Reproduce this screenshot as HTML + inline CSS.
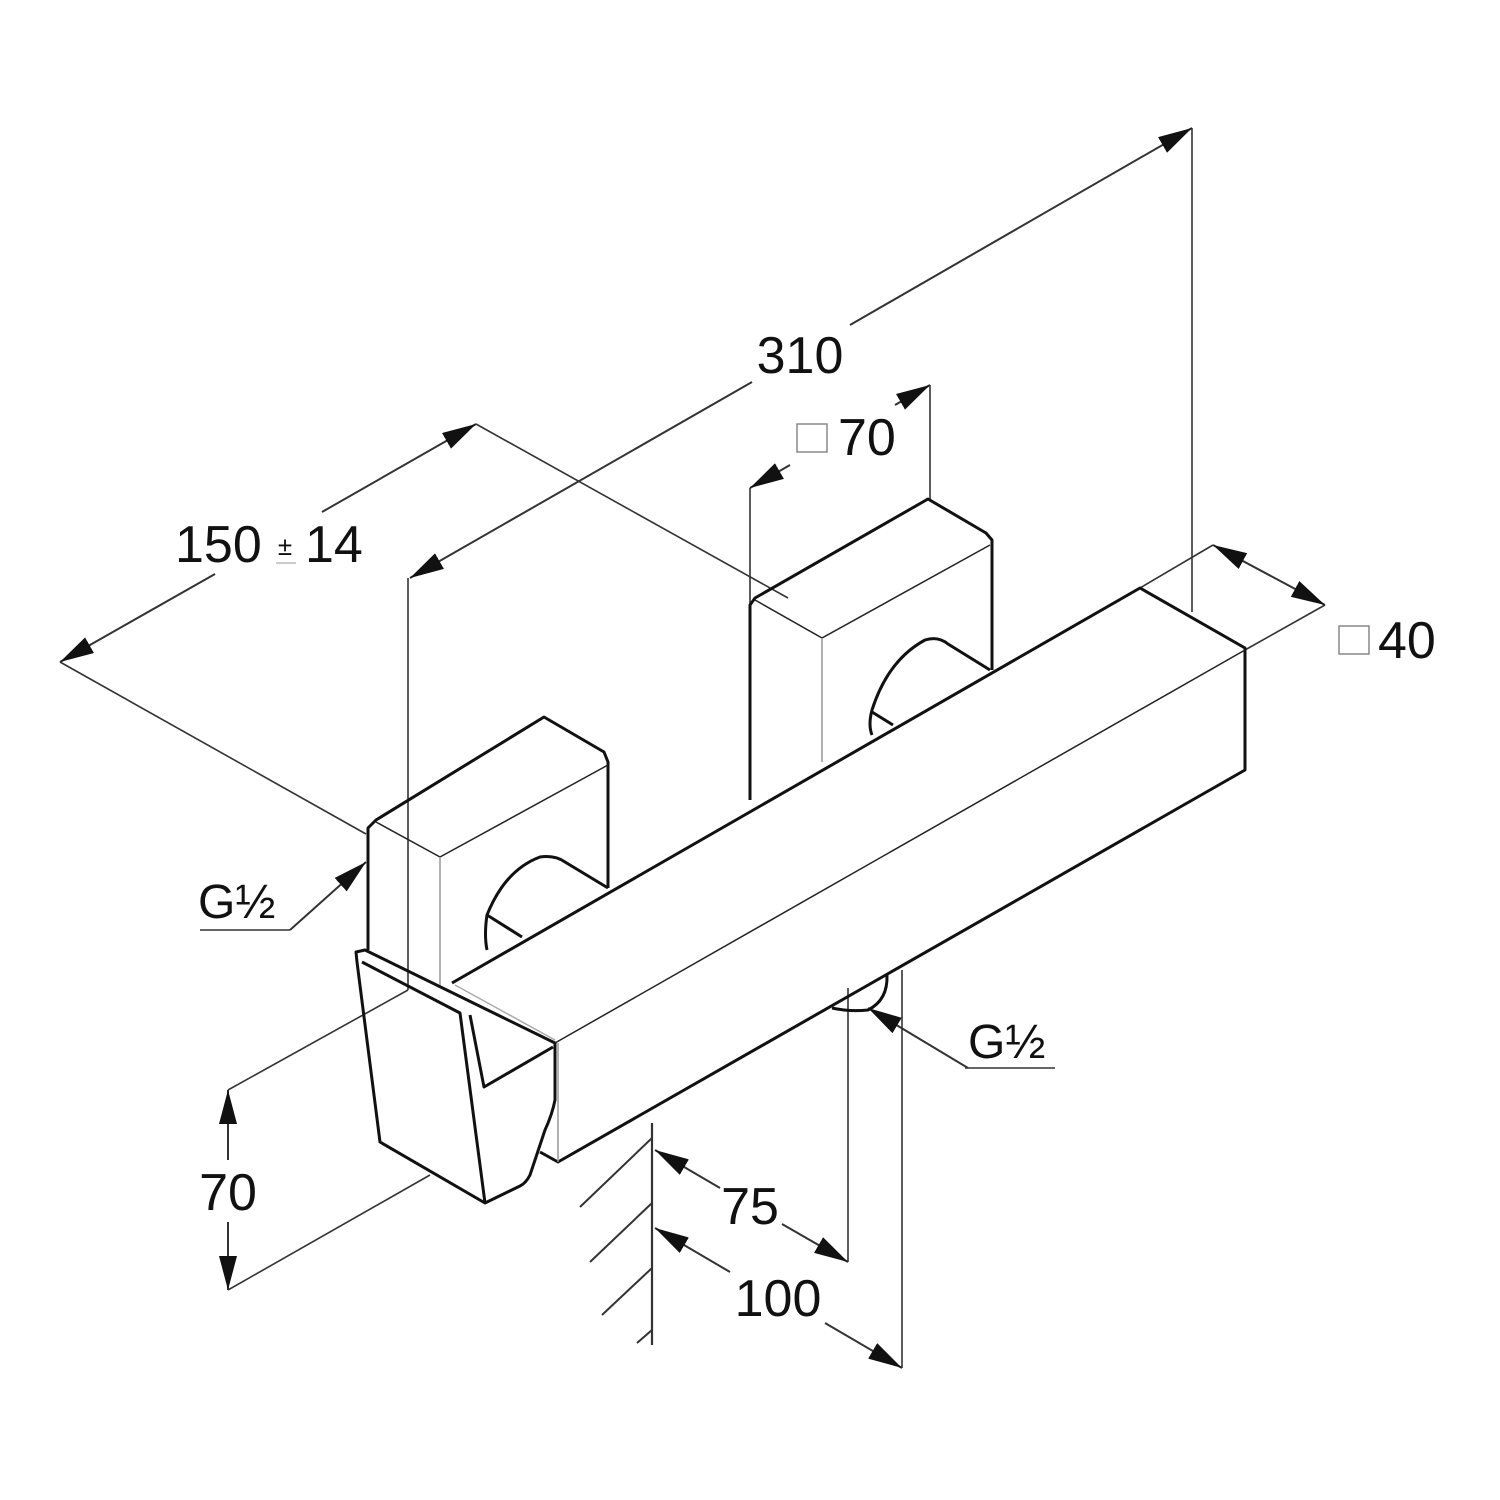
<!DOCTYPE html>
<html><head><meta charset="utf-8"><style>
html,body{margin:0;padding:0;background:#fff;}
svg{display:block;}
text{font-family:"Liberation Sans",sans-serif;fill:#111;}
</style></head><body>
<svg width="1500" height="1500" viewBox="0 0 1500 1500" xmlns="http://www.w3.org/2000/svg">
<defs>
<marker id="a" viewBox="0 0 34 18" refX="34" refY="9" markerWidth="34" markerHeight="18" markerUnits="userSpaceOnUse" orient="auto-start-reverse">
<path d="M0,0 L34,9 L0,18 Z" fill="#111"/>
</marker>
</defs>
<g fill="none" stroke="#333" stroke-width="2">
<line x1="410" y1="578" x2="752" y2="382" marker-start="url(#a)"/>
<line x1="850" y1="325" x2="1192" y2="128" marker-end="url(#a)"/>
<line x1="1192" y1="128" x2="1192" y2="612" stroke-width="1.6"/>
<line x1="408" y1="578" x2="408" y2="990" stroke-width="1.6"/>
<line x1="60" y1="662" x2="215" y2="574" marker-start="url(#a)"/>
<line x1="322" y1="512" x2="476" y2="424" marker-end="url(#a)"/>
<line x1="60" y1="662" x2="366" y2="834" stroke-width="1.6"/>
<line x1="476" y1="424" x2="788" y2="598" stroke-width="1.6"/>
<line x1="750" y1="488" x2="790" y2="465" marker-start="url(#a)"/>
<line x1="895" y1="405" x2="930" y2="385" marker-end="url(#a)"/>
<line x1="750" y1="488" x2="750" y2="800" stroke-width="1.6"/>
<line x1="930" y1="385" x2="930" y2="500" stroke-width="1.6"/>
<line x1="1213" y1="545" x2="1325" y2="605" marker-start="url(#a)" marker-end="url(#a)"/>
<line x1="1213" y1="545" x2="1140" y2="588" stroke-width="1.6"/>
<line x1="1325" y1="605" x2="1245" y2="650" stroke-width="1.6"/>
<line x1="228" y1="1090" x2="228" y2="1160" marker-start="url(#a)"/>
<line x1="228" y1="1222" x2="228" y2="1290" marker-end="url(#a)"/>
<line x1="228" y1="1090" x2="408" y2="990" stroke-width="1.6"/>
<line x1="228" y1="1290" x2="430" y2="1175" stroke-width="1.6"/>
<line x1="652" y1="1123" x2="652" y2="1345" stroke-width="2.2"/>
<line x1="652" y1="1138" x2="580" y2="1207"/>
<line x1="652" y1="1203" x2="590" y2="1262"/>
<line x1="652" y1="1268" x2="602" y2="1315"/>
<line x1="652" y1="1330" x2="637" y2="1343"/>
<line x1="655" y1="1150" x2="720" y2="1188" marker-start="url(#a)"/>
<line x1="782" y1="1224" x2="848" y2="1262" marker-end="url(#a)"/>
<line x1="655" y1="1228" x2="730" y2="1272" marker-start="url(#a)"/>
<line x1="825" y1="1323" x2="902" y2="1368" marker-end="url(#a)"/>
<line x1="848" y1="988" x2="848" y2="1262" stroke-width="1.6"/>
<line x1="902" y1="970" x2="902" y2="1368" stroke-width="1.6"/>
<line x1="290" y1="930" x2="366" y2="862" marker-end="url(#a)"/>
<line x1="200" y1="930" x2="290" y2="930" stroke-width="1.6"/>
<line x1="968" y1="1068" x2="868" y2="1008" marker-end="url(#a)"/>
<line x1="965" y1="1068" x2="1055" y2="1068" stroke-width="1.6"/>
</g>
<g fill="none" stroke="#111" stroke-width="3" stroke-linejoin="round">
<path d="M368,950 L368,828 L376,820 L544,717 L604,752 L608,762 L608,888"/>
<path d="M750,800 L750,605 L755,598 L928,499 L986,533 L992,540 L992,670"/>
<path d="M487,950 Q484,935 487,915 Q505,870 540,857 Q555,855 565,862 L608,888"/>
<path d="M487,915 L522,937"/>
<path d="M872,735 Q868,725 872,710 Q888,660 925,640 Q938,636 948,644 L990,670"/>
<path d="M872,712 L893,725"/>
<path d="M452,983 L1140,588 L1245,648 L1245,770 L558,1162 L540,1152"/>
<path d="M356,952 L365,950 L555,1043 L555,1100 Q552,1115 545,1130 Q535,1160 530,1175 Q526,1183 520,1186 L485,1203 L380,1142 L357,962 Z"/>
<path d="M362,962 L460,1013 L485,1203"/>
<path d="M470,1015 L484,1087 L553,1047"/>
<path d="M832,1008 Q850,1012 868,1010 Q888,1000 887,975"/>
</g>
<g fill="none" stroke="#222" stroke-width="1.5">
<line x1="440" y1="857" x2="608" y2="765"/>
<line x1="376" y1="822" x2="440" y2="857"/>
<line x1="440" y1="857" x2="440" y2="985" stroke="#999"/>
<line x1="822" y1="638" x2="990" y2="545"/>
<line x1="755" y1="600" x2="822" y2="638"/>
<line x1="822" y1="638" x2="822" y2="762" stroke="#999"/>
<line x1="555" y1="1043" x2="1245" y2="650"/>
<line x1="558" y1="1043" x2="558" y2="1162" stroke="#999"/>
<line x1="455" y1="985" x2="555" y2="1040" stroke="#aaa"/>
</g>
<text x="800" y="373" font-size="52" text-anchor="middle">310</text>
<text x="175" y="562" font-size="52">150</text>
<text x="285" y="555" font-size="26" fill="#888" text-anchor="middle">±</text>
<line x1="276" y1="563" x2="296" y2="563" stroke="#999" stroke-width="1"/>
<text x="305" y="562" font-size="52">14</text>
<rect x="797" y="424" width="30" height="28" fill="none" stroke="#888" stroke-width="1.5"/>
<text x="838" y="455" font-size="52">70</text>
<rect x="1339" y="626" width="30" height="28" fill="none" stroke="#888" stroke-width="1.5"/>
<text x="1378" y="658" font-size="52">40</text>
<text x="228" y="1210" font-size="52" text-anchor="middle">70</text>
<text x="750" y="1224" font-size="52" text-anchor="middle">75</text>
<text x="778" y="1316" font-size="52" text-anchor="middle">100</text>
<text x="198" y="918" font-size="48">G½</text>
<text x="968" y="1058" font-size="48">G½</text>
</svg>
</body></html>
